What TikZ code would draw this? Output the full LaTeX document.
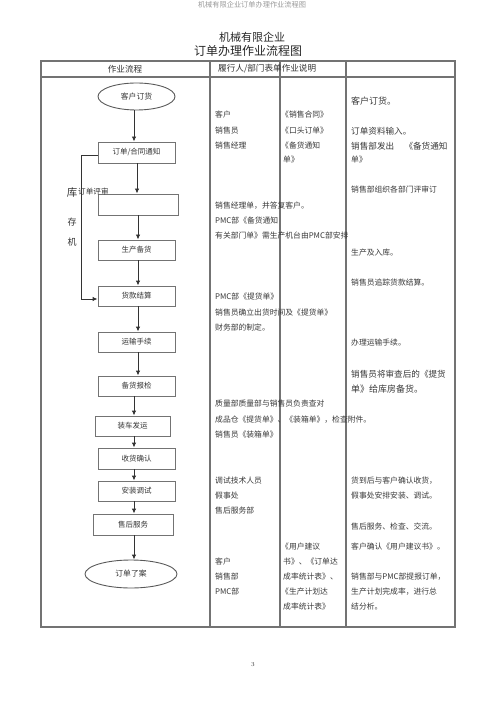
\documentclass[tikz,border=0pt]{standalone}
\usepackage{fontspec}
\newfontfamily\cjk{Noto Sans CJK SC}
\usetikzlibrary{arrows.meta,shapes.geometric}
\tikzset{
  tline/.style={draw=black!55,line width=1.1pt},
  fbox/.style={draw=black!55,line width=0.9pt,minimum width=77pt,minimum height=20pt,inner sep=0pt,font=\cjk\fontsize{7.5}{7.5}\selectfont,text=black!80},
  fell/.style={ellipse,draw=black!65,line width=0.9pt,inner sep=0pt,font=\cjk\fontsize{7.8}{7.8}\selectfont,text=black!80},
  arr/.style={draw=black!80,line width=0.9pt,-{Latex[length=5pt,width=4.5pt]}},
  tx/.style={anchor=west,inner sep=0pt,font=\cjk\fontsize{7.8}{7.8}\selectfont,text=black!78},
  txl/.style={anchor=west,inner sep=0pt,font=\cjk\fontsize{8.6}{8.6}\selectfont,text=black!78},
}
\begin{document}
\begin{tikzpicture}[x=1pt,y=-1pt]
\useasboundingbox (0,0) rectangle (500,708);
% faint header
\node[inner sep=0pt,font=\cjk\fontsize{7.2}{7.2}\selectfont,text=black!40] (hdr) at (252,4.5) {机械有限企业订单办理作业流程图};
% titles
\node[inner sep=0pt,font=\cjk\fontsize{11}{11}\selectfont,text=black!85] (t1) at (252,37) {机械有限企业};
\node[inner sep=0pt,font=\cjk\fontsize{12}{12}\selectfont,text=black!85] (t2) at (248,51) {订单办理作业流程图};
% table
\draw[tline] (41,61) rectangle (455,627);
\draw[tline] (41,77) -- (455,77);
\draw[tline] (210,61) -- (210,627);
\draw[tline] (280,61) -- (280,627);
\draw[tline] (346,61) -- (346,627);
\node[inner sep=0pt,font=\cjk\fontsize{8.6}{8.6}\selectfont,text=black!80] (h1) at (125,69) {作业流程};
\node[anchor=west,inner sep=0pt,font=\cjk\fontsize{8.6}{8.6}\selectfont,text=black!80] (h2) at (218,69) {履行人/部门表单作业说明};
% flow
\node[fell,minimum width=77pt,minimum height=27pt] (e1) at (136.5,96.5) {客户订货};
\node[fbox,minimum height=21pt] (b1) at (136.5,152.5) {订单/合同通知};
\node[fbox,minimum width=80pt,minimum height=21pt] (b2) at (138,204.5) {};
\node[fbox] (b3) at (136.5,250) {生产备货};
\node[fbox] (b4) at (136.5,296) {货款结算};
\node[fbox] (b5) at (136.5,342) {运输手续};
\node[fbox] (b6) at (136.5,386) {备货报检};
\node[fbox,minimum width=75pt] (b7) at (132.5,426) {装车发运};
\node[fbox,minimum height=21pt] (b8) at (136.5,458.5) {收货确认};
\node[fbox] (b9) at (136.5,491) {安装调试};
\node[fbox,minimum width=80pt,minimum height=21pt] (b10) at (133,524.5) {售后服务};
\node[fell,minimum width=92pt,minimum height=28pt] (e2) at (131,574) {订单了案};
\draw[arr] ([xshift=-2.5pt]e1.south) -- ([xshift=-2.5pt]e1.south |- b1.north);
\draw[arr] ([xshift=0.5pt]b1.south) -- ([xshift=0.5pt]b1.south |- b2.north);
\draw[arr] (b2.south) -- (b2.south |- b3.north);
\draw[arr] ([xshift=1.5pt]b3.south) -- ([xshift=1.5pt]b3.south |- b4.north);
\draw[arr] ([xshift=1.5pt]b4.south) -- ([xshift=1.5pt]b4.south |- b5.north);
\draw[arr] ([xshift=1.5pt]b5.south) -- ([xshift=1.5pt]b5.south |- b6.north);
\draw[arr] ([xshift=-2.5pt]b6.south) -- ([xshift=-2.5pt]b6.south |- b7.north);
\draw[arr] ([xshift=1.5pt]b7.south) -- ([xshift=1.5pt]b7.south |- b8.north);
\draw[arr] ([xshift=-2.5pt]b8.south) -- ([xshift=-2.5pt]b8.south |- b9.north);
\draw[arr] ([xshift=-2.5pt]b9.south) -- ([xshift=-2.5pt]b9.south |- b10.north);
\draw[arr] ([xshift=1pt]b10.south) -- ([xshift=1pt]b10.south |- e2.north);
\coordinate (c1) at (81,155);
\coordinate (c2) at (81,299);
\draw[arr] (b1.west |- c1) -- (c1) -- (c2) -- (c2 -| b4.west);
\node[inner sep=0pt,font=\cjk\fontsize{10.5}{10.5}\selectfont,text=black!80] (k1) at (72,193) {库};
\node[anchor=west,inner sep=0pt,font=\cjk\fontsize{7.6}{7.6}\selectfont,text=black!80] (k2) at (78,192) {订单评审};
\node[inner sep=0pt,font=\cjk\fontsize{9}{9}\selectfont,text=black!80] (k3) at (72,222) {存};
\node[inner sep=0pt,font=\cjk\fontsize{9}{9}\selectfont,text=black!80] (k4) at (72,242) {机};
% column 2
\node[tx] (p1) at (215,115) {客户};
\node[tx] (p2) at (215,131) {销售员};
\node[tx] (p3) at (215,146) {销售经理};
\node[tx] (p4) at (215,206) {销售经理单，并答复客户。};
\node[tx] (p5) at (215,221) {PMC部《备货通知};
\node[tx] (p6) at (215,236) {有关部门单》需生产机台由PMC部安排};
\node[tx] (p7) at (215,297) {PMC部《提货单》};
\node[tx] (p8) at (215,313) {销售员确立出货时间及《提货单》};
\node[tx] (p9) at (215,328) {财务部的制定。};
\node[tx] (p10) at (215,404) {质量部质量部与销售员负责查对};
\node[tx] (p11) at (215,420) {成品仓《提货单》、《装箱单》，检查附件。};
\node[tx] (p12) at (215,435) {销售员《装箱单》};
\node[tx] (p13) at (215,481) {调试技术人员};
\node[tx] (p14) at (215,496) {假事处};
\node[tx] (p15) at (215,511) {售后服务部};
\node[tx] (p16) at (215,562) {客户};
\node[tx] (p17) at (215,577) {销售部};
\node[tx] (p18) at (215,592) {PMC部};
% column 3
\node[tx] (f1) at (281,115) {《销售合同》};
\node[tx] (f2) at (281,131) {《口头订单》};
\node[tx] (f3) at (281,146) {《备货通知};
\node[tx] (f4) at (283,160) {单》};
\node[tx] (f5) at (281,547) {《用户建议};
\node[tx] (f6) at (283,562) {书》、《订单达};
\node[tx] (f7) at (283,577) {成率统计表》、};
\node[tx] (f8) at (281,592) {《生产计划达};
\node[tx] (f9) at (283,607) {成率统计表》};
% column 4
\node[anchor=west,inner sep=0pt,font=\cjk\fontsize{9}{9}\selectfont,text=black!78] (d1) at (351,101) {客户订货。};
\node[txl] (d2) at (351,131) {订单资料输入。};
\node[txl] (d3) at (351,146) {销售部发出\hspace{1.2em}《备货通知};
\node[tx] (d4) at (351,160) {单》};
\node[tx] (d5) at (351,190) {销售部组织各部门评审订};
\node[tx] (d6) at (351,253) {生产及入库。};
\node[tx] (d7) at (351,283) {销售员追踪货款结算。};
\node[tx] (d8) at (351,343) {办理运输手续。};
\node[txl] (d9) at (351,374) {销售员将审查后的《提货};
\node[anchor=west,inner sep=0pt,font=\cjk\fontsize{9}{9}\selectfont,text=black!78] (d10) at (351,389) {单》给库房备货。};
\node[tx] (d11) at (351,481) {货到后与客户确认收货，};
\node[tx] (d12) at (351,496) {假事处安排安装、调试。};
\node[tx] (d13) at (351,527) {售后服务、检查、交流。};
\node[tx] (d14) at (351,547) {客户确认《用户建议书》。};
\node[tx] (d15) at (351,577) {销售部与PMC部提报订单，};
\node[tx] (d16) at (351,592) {生产计划完成率，进行总};
\node[tx] (d17) at (351,607) {结分析。};
% page number
\node[inner sep=0pt,font=\fontsize{6}{6}\selectfont,text=black!80] (pg) at (253,665) {3};
\end{tikzpicture}
\end{document}
